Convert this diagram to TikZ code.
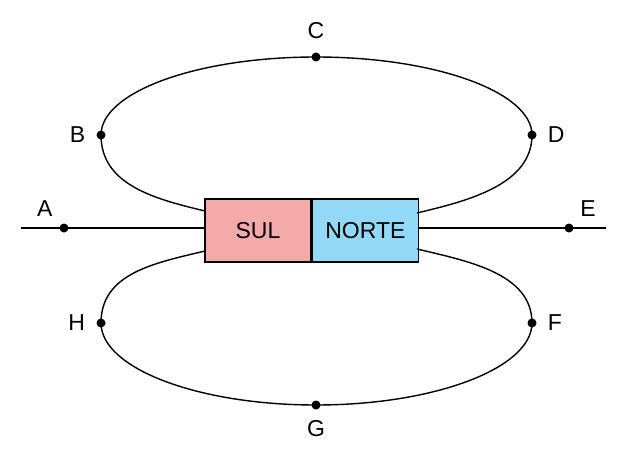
\documentclass[tikz,border=0pt]{standalone}
\usepackage{fontspec}
\setmainfont{Liberation Sans}
\usepackage{xcolor}
\usetikzlibrary{positioning}
\definecolor{sulpink}{RGB}{245,170,170}
\definecolor{norteblue}{RGB}{146,216,247}

\begin{document}
\begin{tikzpicture}[x=1pt,y=-1pt,line width=1.4pt,
    ponto/.style={circle,fill=black,inner sep=0pt,minimum size=9pt},
    polo/.style={draw,minimum width=106pt,minimum height=63pt,inner sep=0pt,
        font=\fontsize{23}{27}\selectfont},
    every label/.style={font=\fontsize{23}{27}\selectfont,inner sep=0pt,label distance=10pt}]
        \useasboundingbox (0,0) rectangle (630,460);
        % ima
        \node[polo,fill=sulpink] (sul) at (258,230.5) {SUL};
        \node[polo,fill=norteblue,right=0pt of sul] (norte) {NORTE};
        % pontos
        \node[ponto,label=above left:A] (A) at (64,228) {};
        \node[ponto,label=left:B] (B) at (101,135) {};
        \node[ponto,label={[label distance=12pt]above:C}] (C) at (316,57) {};
        \node[ponto,label=right:D] (D) at (532,135) {};
        \node[ponto,label=above right:E] (E) at (569,228) {};
        \node[ponto,label=right:F] (F) at (532,323) {};
        \node[ponto,label=below:G] (G) at (316,405) {};
        \node[ponto,label=left:H] (H) at (101,323) {};
        \coordinate (ini) at (21,228);
        \coordinate (fim) at (606,228);
        \coordinate (s1) at (205,211);
        \coordinate (s2) at (205,251);
        \coordinate (n1) at (417,213);
        \coordinate (n2) at (417,249);
        % linhas
        \draw (ini) -- (ini -| sul.west);
        \draw (norte.east |- fim) -- (fim);
        \draw (s1) .. controls +(-50,-12) and +(0,50) .. (B.center)
            .. controls +(0,-43) and +(-119,0) .. (C.center)
            .. controls +(119,0) and +(0,-43) .. (D.center)
            .. controls +(0,50) and +(50,-12) .. (n1);
        \draw (s2) .. controls +(-50,12) and +(0,-50) .. (H.center)
            .. controls +(0,45) and +(-119,0) .. (G.center)
            .. controls +(119,0) and +(0,45) .. (F.center)
            .. controls +(0,-50) and +(50,12) .. (n2);
    \end{tikzpicture}
\end{document}
